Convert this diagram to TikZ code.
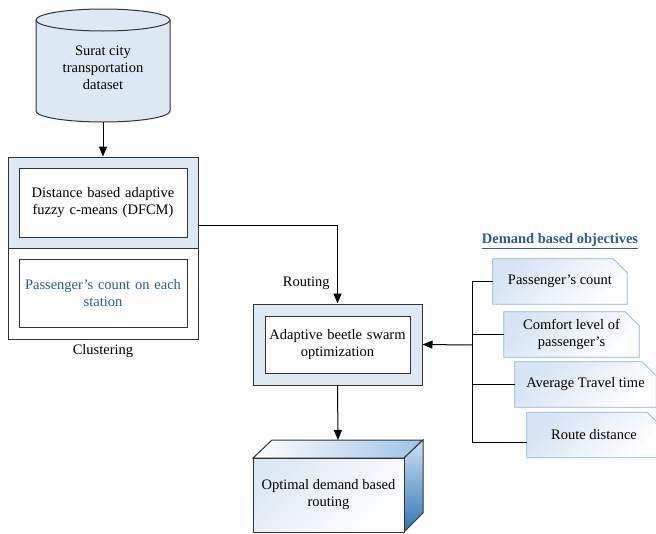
\documentclass[tikz,border=0pt]{standalone}
\usepackage{fontspec}
\setmainfont{Liberation Serif}
\usepackage{xcolor}
\usetikzlibrary{shapes.geometric,arrows.meta,positioning,backgrounds}
\definecolor{boxblue}{RGB}{221,232,245}
\definecolor{txtblue}{RGB}{46,92,138}
\definecolor{objedge}{RGB}{141,179,226}
\definecolor{objfill}{RGB}{214,228,244}
\definecolor{cubeblue}{RGB}{46,117,182}
\definecolor{cubetop}{RGB}{157,195,230}

\begin{document}
\begin{tikzpicture}[x=1pt, y=-1pt,
  %% styles
  every node/.style={font=\fontsize{14.5}{17}\selectfont},
  blk/.style={rectangle, draw=black!80, line width=1pt, fill=#1,
              inner sep=0pt, align=center},
  inbox/.style={blk=white, minimum width=#1, text width=#1-8pt},
  objbox/.style={rectangle, inner sep=0pt, minimum height=45pt,
                 minimum width=#1, align=center},
  diag/.style={shading=axis, top color=#1, bottom color=white, shading angle=45},
  arr/.style={-{Triangle[length=10pt,width=8pt]}, draw=black, line width=1pt},
  ln/.style={draw=black, line width=1pt},
  lbl/.style={font=\fontsize{14.5}{17}\selectfont},
]
\useasboundingbox (0,0) rectangle (656,533);

%% ------ dataset cylinder ----------------------------------------------
\draw[draw=black!80, line width=1pt, fill=boxblue]
  (36,20) -- (36,111) arc[start angle=180, end angle=360, x radius=67pt, y radius=11pt]
  -- (170,20) arc[start angle=0, end angle=180, x radius=67pt, y radius=11pt] -- cycle;
\draw[draw=black!80, line width=1pt]
  (36,20) arc[start angle=180, end angle=360, x radius=67pt, y radius=11pt];
\node[align=center] (data) at (103,68) {Surat city\\transportation\\dataset};
\coordinate (databot) at (103,122);

%% ------ clustering block -----------------------------------------------
\node[blk=boxblue, minimum width=190pt, minimum height=91pt] (clusup) at (103,202.5) {};
\node[blk=white, minimum width=190pt, minimum height=91pt] (cluslow) at (103,293.5) {};
\node[inbox=168pt, minimum height=69pt] (dfcm) at (103,202.5)
  {Distance based adaptive\\fuzzy c-means (DFCM)};
\node[inbox=168pt, minimum height=68pt, text=txtblue] (count) at (103,293)
  {Passenger's count on each\\station};
\node[lbl, below=1pt of cluslow] (clustlbl) {Clustering};

%% ------ beetle swarm block ---------------------------------------------
\node[blk=boxblue, minimum width=169pt, minimum height=81pt] (abso) at (337.5,344.5) {};
\node[inbox=145pt, minimum height=57pt] (absoin) at (337.5,344.5)
  {Adaptive beetle swarm\\optimization};

%% ------ output cube ----------------------------------------------------
\coordinate (optback) at (338,440);
\shade[left color=white, right color=cubetop, draw=black!80, line width=1pt]
  (253,458) -- (272,440) -- (423,440) -- (404,458) -- cycle;
\shade[top color=cubetop!50, bottom color=cubeblue, draw=black!80, line width=1pt]
  (404,458) -- (423,440) -- (423,513) -- (404,532) -- cycle;
\node[rectangle, draw=black!80, line width=1pt, inner sep=0pt, diag=boxblue,
      minimum width=151pt, minimum height=74pt, align=center] (opt) at (328.5,495)
  {Optimal demand based\\routing};

%% ------ objectives -----------------------------------------------------
\node[font=\fontsize{14.5}{17}\selectfont\bfseries, text=txtblue] (objtitle) at (560,241)
  {\underline{Demand based objectives}};
\node[objbox=134pt] (obj1) at (560,281.5)   {Passenger's count};
\node[objbox=135pt] (obj2) at (571.5,334.5) {Comfort level of\\passenger's};
\node[objbox=141pt] (obj3) at (585.5,384.5) {Average Travel time};
\node[objbox=134pt] (obj4) at (594,435)     {Route distance};

%% folded-corner outlines behind the texts
\begin{scope}[on background layer]
\foreach \n in {obj1,obj2,obj3,obj4}
  \shade[diag=objfill, draw=objedge, line width=0.8pt]
    (\n.south west) -- (\n.north west) -- ([xshift=-14pt]\n.north east)
    -- ([yshift=-14pt]\n.north east) -- (\n.south east) -- cycle;
\end{scope}

%% ------ flows ----------------------------------------------------------
\draw[arr] (databot) -- (clusup.north);
\draw[arr] ([yshift=-22.5pt]clusup.east) -| node[pos=0.87, left=4pt, lbl]{Routing} (abso.north);
\draw[arr] (abso.south) -- (optback);

%% objective bracket
\coordinate (trunk) at (472,345);
\draw[ln] (obj1.west) -| (trunk |- 0,442) -- ([yshift=-7pt]obj4.west);
\draw[ln] (obj2.west) -- (trunk |- obj2.west);
\draw[ln] (obj3.west) -- (trunk |- obj3.west);
\draw[arr] (trunk) -- (abso.east);

\end{tikzpicture}
\end{document}
